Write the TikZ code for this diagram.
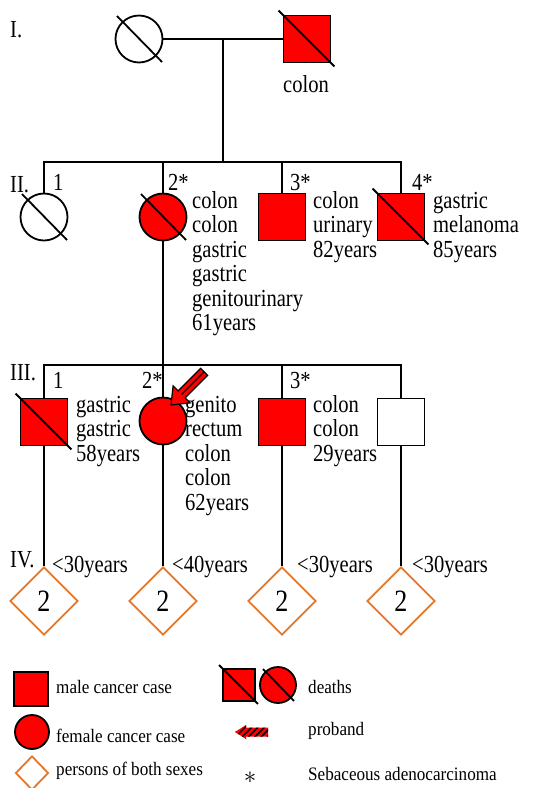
\documentclass[tikz,border=0pt]{standalone}
\usepackage{fontspec}
\setmainfont{Liberation Serif}
\newfontfamily\pedfont[FakeStretch=0.84]{Liberation Serif}
\newfontfamily\legfont[FakeStretch=0.9]{Liberation Serif}
\usetikzlibrary{shapes.geometric,patterns.meta,calc}
\definecolor{canred}{RGB}{255,0,0}
\definecolor{dorange}{RGB}{228,120,40}
\newcommand{\pedlines}[1]{\begin{tabular}[t]{@{}l@{}}#1\end{tabular}}
\begin{document}
\begin{tikzpicture}[x=1pt,y=-1pt,
  conn/.style={line width=1.8pt},
  male/.style={draw,line width=1.8pt,rectangle,minimum size=47pt,inner sep=0pt},
  female/.style={draw,line width=1.8pt,circle,minimum size=47pt,inner sep=0pt},
  aff/.style={fill=canred},
  both/.style={draw=dorange,line width=1.8pt,diamond,minimum width=68pt,minimum height=68pt,inner sep=0pt,font=\pedfont\fontsize{31}{31}\selectfont},
  txt/.style={anchor=base west,inner sep=0pt,font=\pedfont\fontsize{24.5}{24.5}\selectfont},
  leg/.style={anchor=base west,inner sep=0pt,font=\legfont\fontsize{19}{19}\selectfont},
  dead/.style={line width=1.8pt}]
\useasboundingbox (0,0) rectangle (541,788);
\fill[white] (0,0) rectangle (541,788);

% Generation I
\node[female] (I1) at (139,39) {};
\node[male,aff] (I2) at (307,39) {};
\coordinate (m1) at (223,39);
\coordinate (s1) at (223,162);
\draw[conn] (I1) -- (I2);
\draw[conn] (m1) -- (s1);

% Generation II
\node[female] (II1) at (44,217) {};
\node[female,aff] (II2) at (163,217) {};
\node[male,aff] (II3) at (282,217) {};
\node[male,aff] (II4) at (401,217) {};
\draw[conn] (II1) -- (II1 |- s1) -- (II4 |- s1) -- (II4);
\draw[conn] (II2) -- (II2 |- s1);
\draw[conn] (II3) -- (II3 |- s1);

% Generation III
\coordinate (s2) at (163,365);
\node[male,aff] (III1) at (44,422) {};
\node[female,aff] (III2) at (163,421) {};
\node[male,aff] (III3) at (282,422) {};
\node[male] (III4) at (401,422) {};
\draw[conn] (II2) -- (s2);
\draw[conn] (III1) -- (III1 |- s2) -- (III4 |- s2) -- (III4);
\draw[conn] (III2) -- (III2 |- s2);
\draw[conn] (III3) -- (III3 |- s2);

% Generation IV
\node[both] (IV1) at (44,601) {2};
\node[both] (IV2) at (163,601) {2};
\node[both] (IV3) at (282,601) {2};
\node[both] (IV4) at (401,601) {2};
\draw[conn] (III1) -- (IV1);
\draw[conn] (III2) -- (IV2);
\draw[conn] (III3) -- (IV3);
\draw[conn] (III4) -- (IV4);

% deceased marks
\foreach \n in {I2,II4,III1}{
  \draw[dead] ($(\n.north west)+(-4,-4)$) -- ($(\n.south east)+(3,3)$);
}
\foreach \n in {I1,II1,II2}{
  \draw[dead] ($(\n.center)+(-22,-23)$) -- ($(\n.center)+(23,23)$);
}

% generation labels
\node[txt] (gI) at (10,37) {I.};
\node[txt] (gII) at (10,192) {II.};
\node[txt] (gIII) at (10,380) {III.};
\node[txt] (gIV) at (10,567) {IV.};

% individual labels
\node[txt,anchor=base] (tI2) at (306,92) {colon};
\node[txt] (nII1) at (53,190) {1};
\node[txt] (nII2) at (168,190) {2*};
\node[txt] (nII3) at (290,190) {3*};
\node[txt] (nII4) at (412,190) {4*};
\node[txt] (tII2) at (192,208) {\pedlines{colon\\colon\\gastric\\gastric\\genitourinary\\61years}};
\node[txt] (tII3) at (313,208) {\pedlines{colon\\urinary\\82years}};
\node[txt] (tII4) at (433,208) {\pedlines{gastric\\melanoma\\85years}};

\node[txt] (nIII1) at (53,388) {1};
\node[txt] (nIII2) at (142,388) {2*};
\node[txt] (nIII3) at (290,388) {3*};
\node[txt] (tIII1) at (76,412) {\pedlines{gastric\\gastric\\58years}};
\node[txt] (tIII2) at (185,412) {\pedlines{genito\\rectum\\colon\\colon\\62years}};
\node[txt] (tIII3) at (313,412) {\pedlines{colon\\colon\\29years}};

\node[txt] (aIV1) at (52,572) {<30years};
\node[txt] (aIV2) at (172,572) {<40years};
\node[txt] (aIV3) at (297,572) {<30years};
\node[txt] (aIV4) at (412,572) {<30years};

% proband arrow
\filldraw[fill=canred,draw=black,line width=1.2pt,line join=miter]
  (171,405) -- (173.1,385.9) -- (178.1,390.9) -- (200.7,368.3) -- (207.7,375.3)
  -- (185.1,397.9) -- (190.1,402.9) -- cycle;
\draw[line width=1.2pt] (181.6,394.4) -- (204.2,371.8);

% legend
\node[male,aff,minimum size=34pt] (LM) at (31,689) {};
\node[female,aff,minimum size=34pt] (LF) at (32,732) {};
\node[draw=dorange,line width=1.8pt,diamond,minimum width=33pt,minimum height=34pt,inner sep=0pt] (LB) at (32,773) {};
\node[leg] (tLM) at (56,693) {male cancer case};
\node[leg] (tLF) at (56,742) {female cancer case};
\node[leg] (tLB) at (56,775) {persons of both sexes};

\node[male,aff,minimum size=32pt] (LD1) at (239,685) {};
\node[female,aff,minimum size=36pt] (LD2) at (278,685) {};
\draw[dead] ($(LD1.north west)+(-3,-3)$) -- ($(LD1.south east)+(2,2)$);
\draw[dead] ($(LD2.center)+(-15,-16)$) -- ($(LD2.center)+(16,16)$);
\node[leg] (tLD) at (308,693) {deaths};

\path[preaction={fill=canred},pattern={Lines[angle=45,distance=4.5pt,line width=1.6pt]},pattern color=black]
  (235,732) -- (246,725) -- (246,727.5) -- (268,727.5) -- (268,736.5) -- (246,736.5) -- (246,739) -- cycle;
\node[leg] (tLP) at (308,735) {proband};

\node[anchor=base,inner sep=0pt,font=\fontsize{23}{23}\selectfont] (LS) at (250,783) {$\ast$};
\node[leg] (tLS) at (308,780) {Sebaceous adenocarcinoma};
\end{tikzpicture}
\end{document}
